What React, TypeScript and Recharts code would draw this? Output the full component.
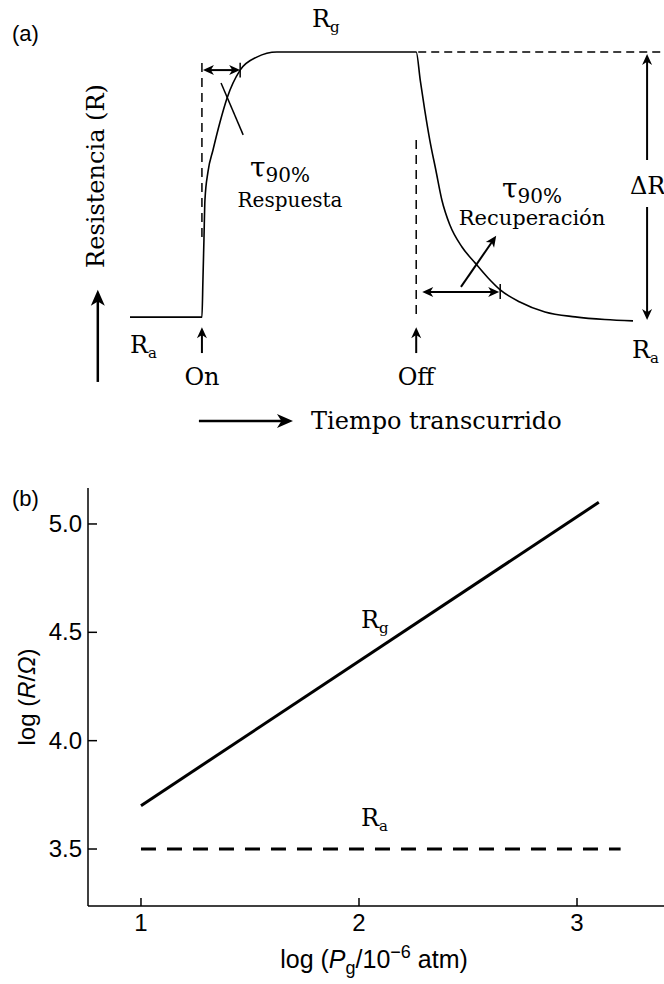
import React from "react"
import { LineChart, Line, XAxis, YAxis, ReferenceLine } from "recharts"

// (a) schematic sensor response: t = elapsed time, r = resistance (arbitrary units)
const responseTime = [0, 14.3, 14.5, 14.7, 14.9, 15.5, 16.5, 17.9, 19.3, 21.9, 25.2, 29.2, 56.9, 57.7, 58.6, 59.6, 60.8, 62, 63.6, 66, 68.6, 71.2, 73.6, 77.5, 82.5, 88.5, 94.4, 100]
const responseR = [1.8, 1.8, 15.6, 30.4, 45.2, 55.6, 63.7, 74.1, 83, 93.3, 98.1, 100, 100, 89.6, 78.5, 67.4, 56.3, 45.2, 35.9, 27.8, 21.9, 16.3, 11.9, 7.4, 3.7, 1.9, 0.9, 0.4]

// guides for (a) in the same t / r units: [t1, r1, t2, r2]
const dashedGuides = [
  [14.3, 95.9, 14.3, 31.5],
  [56.9, 67.4, 56.9, 1.8],
  [57.3, 100, 106.2, 100],
]
const plainSegments = [
  [21.9, 96, 21.9, 90.6],
  [18.1, 88.5, 22.5, 69.3],
  [73.6, 14.1, 73.6, 8.5],
]
// [t1, r1, t2, r2, heads (1 end, 2 both), big head]
const arrowsA = [
  [14.5, 93.3, 21.9, 93.3, 2, 0],
  [102.8, 60, 102.8, 99.3, 1, 0],
  [102.8, 42.6, 102.8, 0.7, 1, 0],
  [14.3, -11.5, 14.3, -1.9, 1, 0],
  [56.9, -11.5, 56.9, -1.9, 1, 0],
  [58.1, 11.1, 73.4, 11.1, 2, 0],
  [65.8, 13, 72.8, 31.9, 1, 0],
  [-6.4, -22.2, -6.4, 11.9, 1, 1],
  [13.7, -36.7, 32.4, -36.7, 1, 1],
]

// (b) log R vs log Pg
const rgX = [1.0, 3.1]
const rgY = [3.7, 5.1]
const raX = [1.0, 3.2]
const raY = [3.5, 3.5]
const xTicks = [1, 2, 3]
const yTicks = [3.5, 4.0, 4.5, 5.0]

const responseData = responseTime.map((t, i) => ({ t, r: responseR[i] }))
const rgData = rgX.map((x, i) => ({ x, y: rgY[i] }))
const raData = raX.map((x, i) => ({ x, y: raY[i] }))

const SERIF = "DejaVu Serif"
const SANS = "Liberation Sans"

function arrowShape(heads: number, big: boolean) {
  const len = big ? 16 : 11
  const half = big ? 7 : 5
  const width = big ? 2.5 : 2
  return (p: any) => {
    const { x1, y1, x2, y2 } = p
    const d = Math.hypot(x2 - x1, y2 - y1) || 1
    const ux = (x2 - x1) / d
    const uy = (y2 - y1) / d
    const head = (tx: number, ty: number, dx: number, dy: number) => {
      const bx = tx - dx * len
      const by = ty - dy * len
      const nx = -dy * half
      const ny = dx * half
      const mx = tx - dx * len * 0.72
      const my = ty - dy * len * 0.72
      return `M${tx},${ty}L${bx + nx},${by + ny}L${mx},${my}L${bx - nx},${by - ny}Z`
    }
    const cut = len * 0.6
    const sx = heads === 2 ? x1 + ux * cut : x1
    const sy = heads === 2 ? y1 + uy * cut : y1
    return (
      <g>
        <line x1={sx} y1={sy} x2={x2 - ux * cut} y2={y2 - uy * cut} stroke="#000" strokeWidth={width} />
        <path d={head(x2, y2, ux, uy)} fill="#000" />
        {heads === 2 && <path d={head(x1, y1, -ux, -uy)} fill="#000" />}
      </g>
    )
  }
}

function Sym({ x, y, base, sub }: { x: number; y: number; base: string; sub: string }) {
  return (
    <text x={x} y={y} fontFamily={SERIF} fontSize={24} fill="#000">
      {base}
      <tspan fontSize={15} dy={5}>{sub}</tspan>
    </text>
  )
}

function Tau({ x, y }: { x: number; y: number }) {
  return (
    <text x={x} y={y} fontFamily={SERIF} fontSize={28} fill="#000">
      τ<tspan fontSize={20} dy={5}>90%</tspan>
    </text>
  )
}

const YTick = (props: any) => {
  const { x, y, payload } = props
  const ax = x + 6
  return (
    <g>
      <line x1={ax} x2={ax + 9} y1={y} y2={y} stroke="#000" strokeWidth={1.5} />
      <text x={x} y={y + 8} textAnchor="end" fontFamily={SANS} fontSize={24} fill="#000">
        {Number(payload.value).toFixed(1)}
      </text>
    </g>
  )
}

const XTick = (props: any) => {
  const { x, y, payload } = props
  return (
    <g>
      <line x1={x} x2={x} y1={y} y2={y - 8} stroke="#000" strokeWidth={1.5} />
      <text x={x} y={y + 25} textAnchor="middle" fontFamily={SANS} fontSize={24} fill="#000">
        {payload.value}
      </text>
    </g>
  )
}

function PanelA() {
  return (
    <LineChart width={664} height={460} data={responseData} margin={{ top: 52, right: 31, bottom: 138, left: 130 }}>
      <XAxis type="number" dataKey="t" domain={[0, 100]} hide />
      <YAxis type="number" domain={[0, 100]} hide />
      {dashedGuides.map((g, i) => (
        <ReferenceLine
          key={`d${i}`}
          segment={[{ x: g[0], y: g[1] }, { x: g[2], y: g[3] }]}
          ifOverflow="visible"
          stroke="#000"
          strokeWidth={1.5}
          strokeDasharray={i === 2 ? "8 5" : "9 6"}
        />
      ))}
      {plainSegments.map((g, i) => (
        <ReferenceLine
          key={`s${i}`}
          segment={[{ x: g[0], y: g[1] }, { x: g[2], y: g[3] }]}
          ifOverflow="visible"
          stroke="#000"
          strokeWidth={1.5}
        />
      ))}
      {arrowsA.map((a, i) => (
        <ReferenceLine
          key={`a${i}`}
          segment={[{ x: a[0], y: a[1] }, { x: a[2], y: a[3] }]}
          ifOverflow="visible"
          shape={arrowShape(a[4], a[5] === 1)}
        />
      ))}
      <Line type="monotone" dataKey="r" stroke="#000" strokeWidth={1.6} dot={false} isAnimationActive={false} />

      <text x={12} y={41} fontFamily={SANS} fontSize={22} fill="#000">(a)</text>
      <Sym x={312} y={27} base="R" sub="g" />
      <Tau x={250} y={177} />
      <text x={290} y={207} textAnchor="middle" fontFamily={SERIF} fontSize={20} fill="#000">Respuesta</text>
      <Tau x={502} y={198} />
      <text x={532} y={225} textAnchor="middle" fontFamily={SERIF} fontSize={21} fill="#000">Recuperación</text>
      <text x={630} y={194} fontFamily={SERIF} fontSize={24} fill="#000">ΔR</text>
      <Sym x={632} y={358} base="R" sub="a" />
      <Sym x={130} y={353} base="R" sub="a" />
      <text x={202} y={385} textAnchor="middle" fontFamily={SERIF} fontSize={24} fill="#000">On</text>
      <text x={416} y={385} textAnchor="middle" fontFamily={SERIF} fontSize={24} fill="#000">Off</text>
      <text x={311} y={429} fontFamily={SERIF} fontSize={24} fill="#000">Tiempo transcurrido</text>
      <text
        x={104}
        y={176}
        transform="rotate(-90 104 176)"
        textAnchor="middle"
        fontFamily={SERIF}
        fontSize={24}
        fill="#000"
      >
        Resistencia (R)
      </text>
    </LineChart>
  )
}

function PanelB() {
  return (
    <LineChart width={664} height={524} margin={{ top: 28, right: 0, bottom: 0, left: 0 }}>
      <XAxis
        type="number"
        dataKey="x"
        domain={[0.757, 3.399]}
        ticks={xTicks}
        height={78}
        tickSize={0}
        tickMargin={0}
        tickLine={false}
        axisLine={{ stroke: "#000", strokeWidth: 1.5 }}
        tick={XTick}
      />
      <YAxis
        type="number"
        domain={[3.237, 5.166]}
        ticks={yTicks}
        width={88}
        tickSize={0}
        tickMargin={6}
        tickLine={false}
        axisLine={{ stroke: "#000", strokeWidth: 1.5 }}
        tick={YTick}
      />
      <Line data={rgData} dataKey="y" stroke="#000" strokeWidth={3} dot={false} isAnimationActive={false} />
      <Line
        data={raData}
        dataKey="y"
        stroke="#000"
        strokeWidth={3}
        strokeDasharray="15 11"
        dot={false}
        isAnimationActive={false}
      />

      <text x={12} y={46} fontFamily={SANS} fontSize={22} fill="#000">(b)</text>
      <Sym x={361} y={168} base="R" sub="g" />
      <Sym x={361} y={366} base="R" sub="a" />
      <text x={374} y={508} textAnchor="middle" fontFamily={SANS} fontSize={25} fill="#000">
        log (<tspan fontStyle="italic">P</tspan>
        <tspan fontSize={18} dy={6}>g</tspan>
        <tspan dy={-6}>/10</tspan>
        <tspan fontSize={18} dy={-10}>−6</tspan>
        <tspan dy={10}> atm)</tspan>
      </text>
      <text
        x={35}
        y={237}
        transform="rotate(-90 35 237)"
        textAnchor="middle"
        fontFamily={SANS}
        fontSize={24}
        fill="#000"
      >
        log (<tspan fontStyle="italic">R</tspan>/<tspan fontStyle="italic">Ω</tspan>)
      </text>
    </LineChart>
  )
}

export default function App() {
  return (
    <div style={{ position: "absolute", left: 0, top: 0, width: 664, height: 984, background: "#fff" }}>
      <PanelA />
      <PanelB />
    </div>
  )
}
